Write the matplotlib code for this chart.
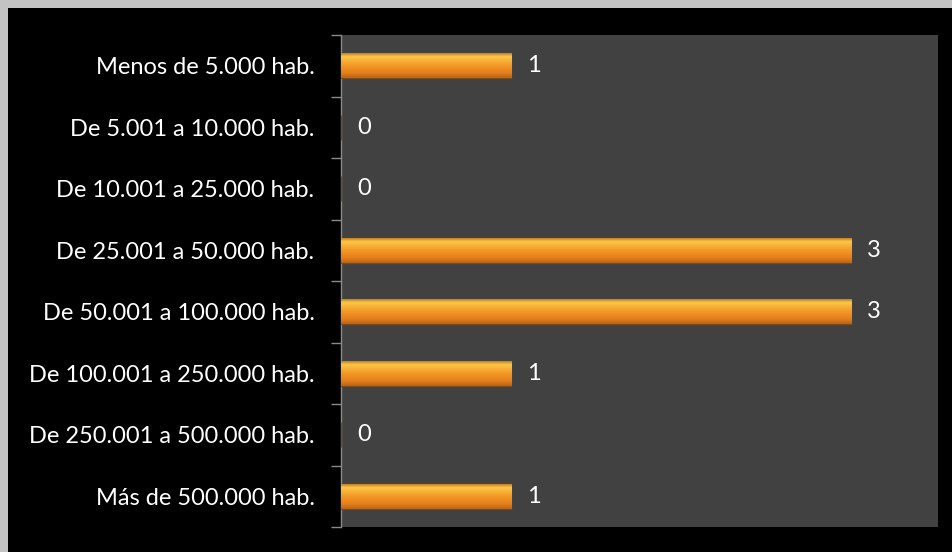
import matplotlib
matplotlib.use("Agg")
import matplotlib.pyplot as plt
import numpy as np
from matplotlib.patches import Rectangle

# categories top to bottom, as in the picture
CATEGORIES = ["Menos de 5.000 hab.", "De 5.001 a 10.000 hab.",
              "De 10.001 a 25.000 hab.", "De 25.001 a 50.000 hab.",
              "De 50.001 a 100.000 hab.", "De 100.001 a 250.000 hab.",
              "De 250.001 a 500.000 hab.", "Más de 500.000 hab."]
COUNTS = [1, 0, 0, 3, 3, 1, 0, 1]

FONT = ["Lato", "DejaVu Sans"]
BG_PLOT = "#414141"
AXIS_GREY = "#8a8a8a"
FS = 17

fig = plt.figure(figsize=(9.53, 5.52), dpi=100, facecolor="#c3c3c3")
# black card over the light grey frame (frame shows only top and left)
fig.patches.append(Rectangle((8 / 953, 0), 1, 1 - 8 / 552,
                             transform=fig.transFigure, facecolor="black",
                             edgecolor="none", zorder=-10))

ax = fig.add_axes([341 / 953, 25 / 552, 597 / 953, 492 / 552], zorder=5)
ax.set_facecolor(BG_PLOT)

y = np.arange(len(CATEGORIES))
bars = ax.barh(y, COUNTS, height=0.41, color="#f08a1c",
               edgecolor="#7a4a1a", linewidth=0.9, zorder=3)

# vertical gradient (top -> bottom) for the glossy look of the bars
cmap = matplotlib.colors.LinearSegmentedColormap.from_list(
    "glow", ["#b06a1c", "#fcc848", "#f8b038", "#f29a28", "#ef8a20",
             "#e07c1c", "#b86418"])
for b in bars:
    w = b.get_width()
    if w <= 0:
        continue
    x0, y0, h = b.get_x(), b.get_y(), b.get_height()
    im = ax.imshow(np.linspace(0, 1, 64).reshape(-1, 1), cmap=cmap,
                   aspect="auto", extent=(x0, x0 + w, y0, y0 + h),
                   origin="lower", zorder=3.5)
    im.set_clip_path(b)

for yi, v in zip(y, COUNTS):
    ax.text(v + 0.095, yi, str(v), color="white", fontsize=FS,
            ha="left", va="center", family=FONT)

ax.set_xlim(0, 3.51)
ax.set_ylim(len(CATEGORIES) - 0.5, -0.5)
ax.set_xticks([])
ax.set_yticks(y)
ax.set_yticklabels(CATEGORIES, color="white", fontsize=FS, family=FONT)
ax.tick_params(axis="y", which="major", length=0, pad=19)
ax.set_yticks(np.arange(-0.5, len(CATEGORIES)), minor=True)
ax.tick_params(axis="y", which="minor", length=7, color=AXIS_GREY,
               width=1)
for s in ("top", "right", "bottom"):
    ax.spines[s].set_visible(False)
ax.spines["left"].set_color(AXIS_GREY)
ax.spines["left"].set_linewidth(1)

fig.savefig("out.png", dpi=100, facecolor=fig.get_facecolor())
